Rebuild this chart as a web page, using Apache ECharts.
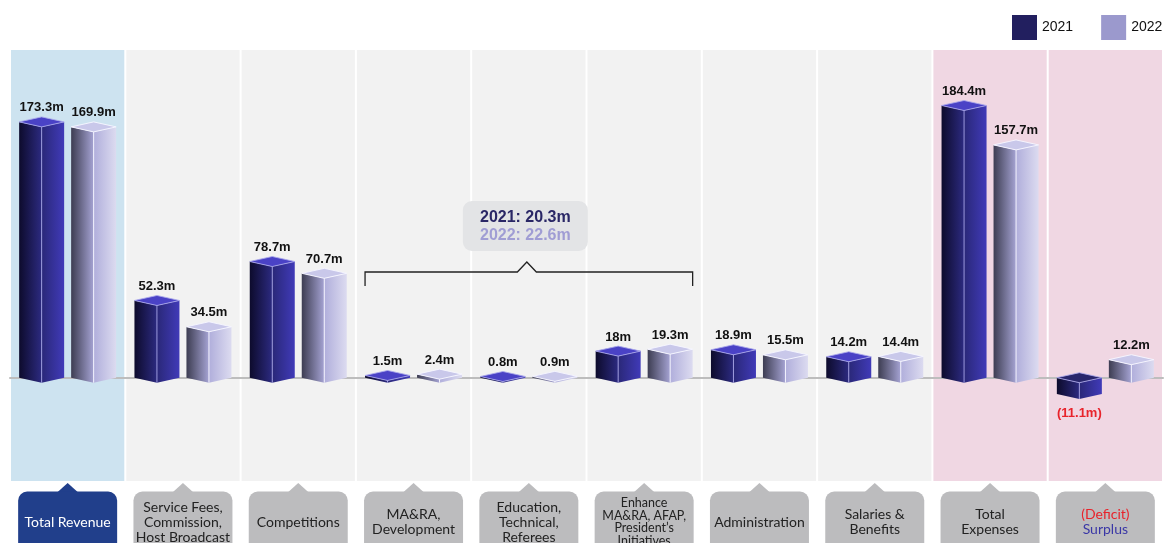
<!DOCTYPE html>
<html>
<head>
<meta charset="utf-8">
<script src="https://cdn.jsdelivr.net/npm/echarts@6/dist/echarts.min.js"></script>
<style>
html,body{margin:0;padding:0;background:#fff;}
#chart{width:1164px;height:543px;}
</style>
</head>
<body>
<div id="chart"></div>
<script>
// ---- data ----
const categories = [
  'Total Revenue',
  'Service Fees,\nCommission,\nHost Broadcast',
  'Competitions',
  'MA&RA,\nDevelopment',
  'Education,\nTechnical,\nReferees',
  'Enhance\nMA&RA, AFAP,\nPresident\u2019s\nInitiatives',
  'Administration',
  'Salaries &\nBenefits',
  'Total\nExpenses',
  '(Deficit)\nSurplus'
];
const years = ['2021', '2022'];
const values2021 = [173.3, 52.3, 78.7, 1.5, 0.8, 18, 18.9, 14.2, 184.4, -11.1];
const values2022 = [169.9, 34.5, 70.7, 2.4, 0.9, 19.3, 15.5, 14.4, 157.7, 12.2];
const groupIndices = [3, 4, 5];
const groupTotals = ['2021: 20.3m', '2022: 22.6m'];

// ---- styles ----
const panelColors = ['#cde3f0','#f2f2f2','#f2f2f2','#f2f2f2','#f2f2f2','#f2f2f2','#f2f2f2','#f2f2f2','#f0d7e3','#f0d7e3'];
const styles = [
  { legend:'#221f5f', offset:-26,
    left:['#0d0b2c','#2c2a80'], right:['#2a2878','#403ab8'], top:'#4a42c6', topNeg:'#28266c',
    edge:'rgba(170,168,235,0.85)' },
  { legend:'#9b99cd', offset:26,
    left:['#3d3d52','#a5a3d3'], right:['#b0aedb','#dcdbf0'], top:'#c9c8ea', topNeg:'#b7b5e0',
    edge:'rgba(245,245,255,0.95)' }
];

function grad(c) {
  return { type:'linear', x:0, y:0, x2:1, y2:0, colorStops:[{offset:0,color:c[0]},{offset:1,color:c[1]}] };
}
function fmt(v) { return v < 0 ? '(' + Math.abs(v) + 'm)' : v + 'm'; }

function barRenderer(s) {
  return function (params, api) {
    const cat = api.value(0), v = api.value(1);
    const bw = api.size([1, 0])[0];
    const p0 = api.coord([cat, 0]);
    const pv = api.coord([cat, v]);
    const x = p0[0] + s.offset * bw / 115.3;
    const hw = 22.5, d = 5;
    const yTop = Math.min(pv[1], p0[1]);
    const yBot = Math.max(pv[1], p0[1]);
    const children = [
      { type:'polygon', shape:{ points:[[x-hw,yTop],[x,yTop+d],[x,yBot+d],[x-hw,yBot]] }, style:{ fill:grad(s.left) } },
      { type:'polygon', shape:{ points:[[x,yTop+d],[x+hw,yTop],[x+hw,yBot],[x,yBot+d]] }, style:{ fill:grad(s.right) } },
      { type:'polygon', shape:{ points:[[x-hw,yTop],[x,yTop-d],[x+hw,yTop],[x,yTop+d]] },
        style:{ fill: v < 0 ? s.topNeg : s.top, stroke:s.edge, lineWidth:1 } },
      { type:'line', shape:{ x1:x, y1:yTop+d, x2:x, y2:yBot+d }, style:{ stroke:s.edge, lineWidth:1 } }
    ];
    const neg = v < 0;
    children.push({
      type:'text', z2:10,
      style:{ text:fmt(v), x:x, y: neg ? yBot + 19 : yTop - 14,
        fill: neg ? '#e8232b' : '#111', font:'bold 13px "Liberation Sans", Arial, sans-serif',
        align:'center', verticalAlign:'middle' }
    });
    return { type:'group', children };
  };
}

function panelRenderer(params, api) {
  const i = api.value(0);
  const cs = params.coordSys;
  const bw = api.size([1, 0])[0];
  const cx = api.coord([i, 0])[0];
  const bottom = cs.y + cs.height;
  const first = i === 0;
  const boxColor = first ? '#213f8b' : '#bcbcbe';
  const lines = categories[i].split('\n').length;
  const small = lines > 3;
  let textStyle;
  if (i === categories.length - 1) {
    textStyle = { text:'{r|(Deficit)}\n{b|Surplus}', x:cx, y:bottom+41, align:'center', verticalAlign:'middle',
      rich:{ r:{ fill:'#e8232b', font:'14px Lato, sans-serif', lineHeight:15 },
             b:{ fill:'#3a37a6', font:'14px Lato, sans-serif', lineHeight:15 } } };
  } else {
    textStyle = { text:categories[i], x:cx, y:bottom+41, align:'center', verticalAlign:'middle',
      fill: first ? '#ffffff' : '#222', font:(small ? '12.5px' : '14px') + ' Lato, sans-serif',
      lineHeight: small ? 12.5 : 15 };
  }
  return {
    type:'group',
    children:[
      { type:'rect', shape:{ x:cx-bw/2+1, y:cs.y, width:bw-2, height:cs.height }, style:{ fill:panelColors[i] } },
      { type:'polygon', shape:{ points:[[cx-10,bottom+11],[cx,bottom+2],[cx+10,bottom+11]] }, style:{ fill:boxColor } },
      { type:'rect', shape:{ x:cx-49.5, y:bottom+10.5, width:99, height:60, r:9 }, style:{ fill:boxColor } },
      { type:'text', z2:5, style:textStyle }
    ]
  };
}

const chart = echarts.init(document.getElementById('chart'), null, { renderer:'canvas' });
const option = {
  animation:false,
  backgroundColor:'#ffffff',
  grid:{ left:10, right:1, top:50, bottom:62 },
  legend:{
    data:years, left:1012, top:15, icon:'rect', itemWidth:25, itemHeight:25, itemGap:28, padding:0,
    textStyle:{ fontSize:14, color:'#111', fontFamily:'"Liberation Sans", Arial, sans-serif' }
  },
  xAxis:{ type:'category', data:categories, z:2,
    axisLine:{ show:true, onZero:true, lineStyle:{ color:'#bdbdbd', width:2 } },
    axisTick:{ show:false }, axisLabel:{ show:false }, splitLine:{ show:false } },
  yAxis:{ type:'value', min:-70, max:222, show:false },
  series:[
    { type:'custom', name:'panels', z:1, silent:true, renderItem:panelRenderer,
      data:categories.map((c, i) => [i, 0]) },
    { type:'custom', name:years[0], z:3, renderItem:barRenderer(styles[0]),
      itemStyle:{ color:styles[0].legend },
      data:values2021.map((v, i) => [i, v]) },
    { type:'custom', name:years[1], z:3, renderItem:barRenderer(styles[1]),
      itemStyle:{ color:styles[1].legend },
      data:values2022.map((v, i) => [i, v]) }
  ]
};
chart.setOption(option);

// annotation bracket over grouped categories
const cxA = chart.convertToPixel({ xAxisIndex:0 }, groupIndices[0]);
const cxB = chart.convertToPixel({ xAxisIndex:0 }, groupIndices[1]);
const cxC = chart.convertToPixel({ xAxisIndex:0 }, groupIndices[2]);
const xl = cxA - 26 - 22.5, xr = cxC + 26 + 22.5, xm = cxB - 2;
const yl = 272;
chart.setOption({
  graphic:[
    { type:'polyline', z:10, shape:{ points:[[xl,286],[xl,yl],[xm-9.5,yl],[xm,yl-10],[xm+9.5,yl],[xr,yl],[xr,286]] },
      style:{ stroke:'#222', lineWidth:1.3, fill:null } },
    { type:'rect', z:10, shape:{ x:xm-64, y:201, width:125, height:50, r:9 }, style:{ fill:'#e3e4e6' } },
    { type:'text', z:11, style:{ text:groupTotals[0], x:xm-1.5, y:218, align:'center', verticalAlign:'middle',
        fill:'#2a2766', font:'bold 16px "Liberation Sans", Arial, sans-serif' } },
    { type:'text', z:11, style:{ text:groupTotals[1], x:xm-1.5, y:236, align:'center', verticalAlign:'middle',
        fill:'#a09dd4', font:'bold 16px "Liberation Sans", Arial, sans-serif' } }
  ]
});
</script>
</body>
</html>
